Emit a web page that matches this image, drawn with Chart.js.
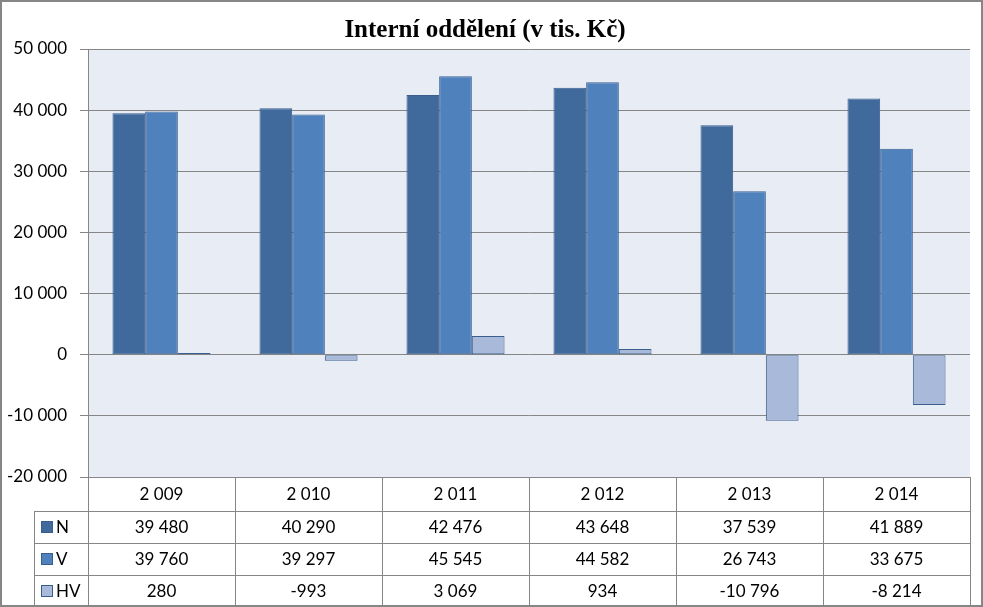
<!DOCTYPE html>
<html lang="cs">
<head>
    <meta charset="UTF-8">
    <title>Interní oddělení</title>
    <script src="https://cdn.jsdelivr.net/npm/chart.js"></script>
    <style>
        body { margin: 0; background: #fff; }
        .wrap { width: 983px; height: 607px; }
    </style>
</head>
<body>
    <div class="wrap"><canvas id="chart" width="983" height="607"></canvas></div>

    <script>
        const years = ['2 009', '2 010', '2 011', '2 012', '2 013', '2 014'];
        const seriesN = [39480, 40290, 42476, 43648, 37539, 41889];
        const seriesV = [39760, 39297, 45545, 44582, 26743, 33675];
        const seriesHV = [280, -993, 3069, 934, -10796, -8214];
        const seriesNames = ['N', 'V', 'HV'];
        const colors = ['#40699C', '#4F81BD', '#A8B9D9'];

        const fontFamily = 'Lato, "Liberation Sans", sans-serif';
        const gridColor = '#868686';

        function fmt(v) {
            const s = String(Math.abs(v)).replace(/\B(?=(\d{3})+(?!\d))/g, ' ');
            return (v < 0 ? '-' : '') + s;
        }

        // plot background + outer frame + data table under the chart
        const tablePlugin = {
            id: 'tablePlugin',
            beforeDraw(chart) {
                const { ctx, chartArea: a } = chart;
                ctx.save();
                ctx.fillStyle = '#E8ECF5';
                ctx.fillRect(a.left, a.top, a.right - a.left, a.bottom - a.top);
                ctx.restore();
            },
            afterDraw(chart) {
                const { ctx, chartArea: a } = chart;
                const x = chart.scales.x;
                const colW = (a.right - a.left) / years.length;
                const headH = 34, rowH = 32;
                const legendLeft = 34;
                const top = a.bottom;
                const rowsTop = top + headH;
                const bottom = rowsTop + rowH * 3;

                ctx.save();
                ctx.strokeStyle = gridColor;
                ctx.lineWidth = 1;
                ctx.beginPath();
                // vertical lines
                for (let i = 0; i <= years.length; i++) {
                    const px = Math.round(a.left + i * colW) + 0.5;
                    ctx.moveTo(px, top);
                    ctx.lineTo(px, bottom);
                }
                ctx.moveTo(legendLeft + 0.5, rowsTop);
                ctx.lineTo(legendLeft + 0.5, bottom);
                // horizontal lines
                for (let r = 0; r <= 3; r++) {
                    const py = Math.round(rowsTop + r * rowH) + 0.5;
                    ctx.moveTo(legendLeft, py);
                    ctx.lineTo(a.right, py);
                }
                ctx.stroke();

                ctx.fillStyle = '#000';
                ctx.font = '17px ' + fontFamily;
                ctx.textAlign = 'center';
                ctx.textBaseline = 'middle';
                years.forEach((y, i) => {
                    ctx.fillText(y, x.getPixelForValue(i), top + headH / 2 + 1);
                });

                chart.data.datasets.forEach((ds, r) => {
                    const cy = rowsTop + r * rowH + rowH / 2 + 1;
                    ds.data.forEach((v, i) => {
                        ctx.fillStyle = '#000';
                        ctx.textAlign = 'center';
                        ctx.fillText(fmt(v), x.getPixelForValue(i), cy);
                    });
                    // legend key
                    ctx.fillStyle = ds.backgroundColor;
                    ctx.fillRect(legendLeft + 7, cy - 7, 12, 12);
                    ctx.strokeStyle = '#3A5F8E';
                    ctx.strokeRect(legendLeft + 7.5, cy - 6.5, 11, 11);
                    ctx.fillStyle = '#000';
                    ctx.textAlign = 'left';
                    ctx.fillText(ds.label, legendLeft + 22, cy);
                });

                // outer frame
                ctx.strokeStyle = gridColor;
                ctx.lineWidth = 2;
                ctx.strokeRect(1, 1, chart.width - 2, chart.height - 2);
                ctx.restore();
            }
        };

        const ctx = document.getElementById('chart').getContext('2d');
        new Chart(ctx, {
            type: 'bar',
            data: {
                labels: years,
                datasets: [
                    { label: seriesNames[0], data: seriesN, backgroundColor: colors[0] },
                    { label: seriesNames[1], data: seriesV, backgroundColor: colors[1] },
                    { label: seriesNames[2], data: seriesHV, backgroundColor: colors[2] }
                ].map(d => Object.assign(d, {
                    borderColor: '#3A5F8E',
                    borderWidth: 1,
                    borderSkipped: false,
                    barPercentage: 1,
                    categoryPercentage: 0.667
                }))
            },
            options: {
                responsive: false,
                animation: false,
                layout: { padding: { left: 0, right: 13, top: 0, bottom: 130 } },
                plugins: {
                    legend: { display: false },
                    tooltip: { enabled: false },
                    title: {
                        display: true,
                        text: 'Interní oddělení (v tis. Kč)',
                        color: '#000',
                        font: { family: '"Liberation Serif", "Times New Roman", serif', size: 25, weight: 'bold' },
                        padding: { top: 16, bottom: 3 }
                    }
                },
                scales: {
                    x: { display: false },
                    y: {
                        min: -20000,
                        max: 50000,
                        afterFit(scale) { scale.width = 88; },
                        ticks: {
                            stepSize: 10000,
                            padding: 13,
                            color: '#000',
                            font: { family: fontFamily, size: 17 },
                            callback: v => fmt(v)
                        },
                        grid: { color: gridColor, tickLength: 8, lineWidth: 1 },
                        border: { color: gridColor }
                    }
                }
            },
            plugins: [tablePlugin]
        });
    </script>
</body>
</html>
